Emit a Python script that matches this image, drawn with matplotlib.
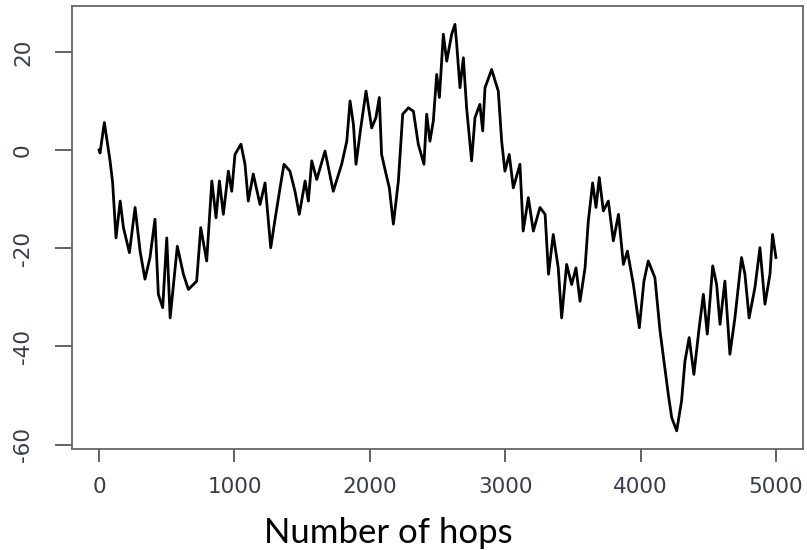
import numpy as np
import matplotlib.pyplot as plt

# random walk position vs hop number
hops = [0, 7, 39, 56, 81, 100, 125, 156, 180, 224, 266, 303, 339, 376, 413,
        438, 470, 500, 525, 578, 623, 660, 721, 751, 795, 833, 864, 889, 918,
        955, 980, 1004, 1048, 1078, 1102, 1139, 1189, 1226, 1268, 1300, 1337,
        1366, 1410, 1447, 1479, 1522, 1546, 1571, 1608, 1669, 1730, 1792,
        1830, 1854, 1879, 1898, 1933, 1972, 2014, 2045, 2070, 2087, 2120,
        2144, 2174, 2211, 2243, 2285, 2322, 2358, 2400, 2420, 2444, 2469,
        2494, 2514, 2543, 2568, 2605, 2629, 2642, 2666, 2691, 2715, 2752,
        2777, 2813, 2834, 2851, 2900, 2949, 2974, 2998, 3030, 3060, 3109,
        3133, 3171, 3208, 3257, 3295, 3320, 3355, 3392, 3417, 3454, 3491,
        3523, 3553, 3590, 3614, 3646, 3671, 3695, 3725, 3762, 3799, 3837,
        3873, 3903, 3947, 3991, 4025, 4057, 4106, 4144, 4173, 4205, 4230,
        4267, 4303, 4328, 4359, 4394, 4433, 4464, 4493, 4533, 4562, 4587,
        4623, 4660, 4697, 4746, 4771, 4802, 4845, 4882, 4919, 4956, 4975,
        5000]
position = [0, -0.6, 5.6, 2.5, -2.2, -6.6, -17.9, -10.4, -15.8, -20.9, -11.7,
            -20.6, -26.3, -21.9, -14.1, -29.4, -32.1, -17.9, -34.2, -19.6,
            -25.3, -28.4, -26.7, -15.8, -22.6, -6.3, -13.8, -6.3, -13.1, -4.3,
            -8.4, -0.9, 1.2, -2.9, -10.4, -4.9, -11.1, -6.7, -19.9, -14.1,
            -7.7, -2.9, -4.3, -8.4, -13.1, -6.3, -10.4, -2.2, -6.0, -0.2,
            -8.4, -2.9, 1.8, 10.0, 5.2, -2.9, 4.5, 12.0, 4.5, 6.6, 10.7, -0.9,
            -4.9, -7.7, -15.1, -6.3, 7.3, 8.6, 7.9, 1.2, -2.9, 7.3, 1.8, 5.9,
            15.4, 10.7, 23.6, 18.1, 23.6, 25.6, 21.5, 12.7, 18.8, 8.6, -2.2,
            6.6, 9.3, 3.9, 12.7, 16.4, 12.0, 1.8, -4.3, -0.9, -7.7, -2.9,
            -16.5, -9.7, -16.5, -11.7, -13.1, -25.3, -17.2, -24.0, -34.2,
            -23.3, -27.4, -24.0, -30.8, -24.0, -14.5, -6.7, -11.7, -5.6,
            -12.4, -10.4, -18.5, -13.1, -23.3, -20.6, -27.4, -36.2, -26.7,
            -22.6, -26.0, -36.9, -43.0, -49.8, -54.5, -57.2, -51.1, -43.0,
            -38.2, -45.7, -36.2, -29.4, -37.5, -23.6, -27.4, -35.5, -26.7,
            -41.6, -34.2, -21.9, -25.3, -34.2, -28.0, -19.9, -31.4, -25.3,
            -17.2, -21.9]

xticks = [0, 1000, 2000, 3000, 4000, 5000]
yticks = [-60, -40, -20, 0, 20]

fig = plt.figure(figsize=(8.07, 5.5), dpi=100)
ax = fig.add_axes([72/807, 1 - 449/550, 731/807, 443.3/550])

ax.plot(hops, position, color='black', lw=2.0)

ax.set_xlim(-200, 5200)
ax.set_ylim(-60.9, 29.4)

ax.set_xticks(xticks)
ax.set_yticks(yticks)
ax.set_yticklabels([str(v) for v in yticks], rotation=90, va='center')

lab_col = '#3a3a4c'
ax.tick_params(axis='x', length=9, width=1.3, color='#555555', pad=11,
               labelsize=15.5, labelcolor=lab_col)
ax.tick_params(axis='y', length=12, width=1.3, color='#555555', pad=16,
               labelsize=15.5, labelcolor=lab_col)
for s in ax.spines.values():
    s.set_color('#666666')
    s.set_linewidth(1.3)

fig.text(388/807, 1 - 533/550, 'Number of hops', family='Lato', fontsize=25,
         ha='center', va='center', color='black')

fig.savefig('out.png', dpi=100)
